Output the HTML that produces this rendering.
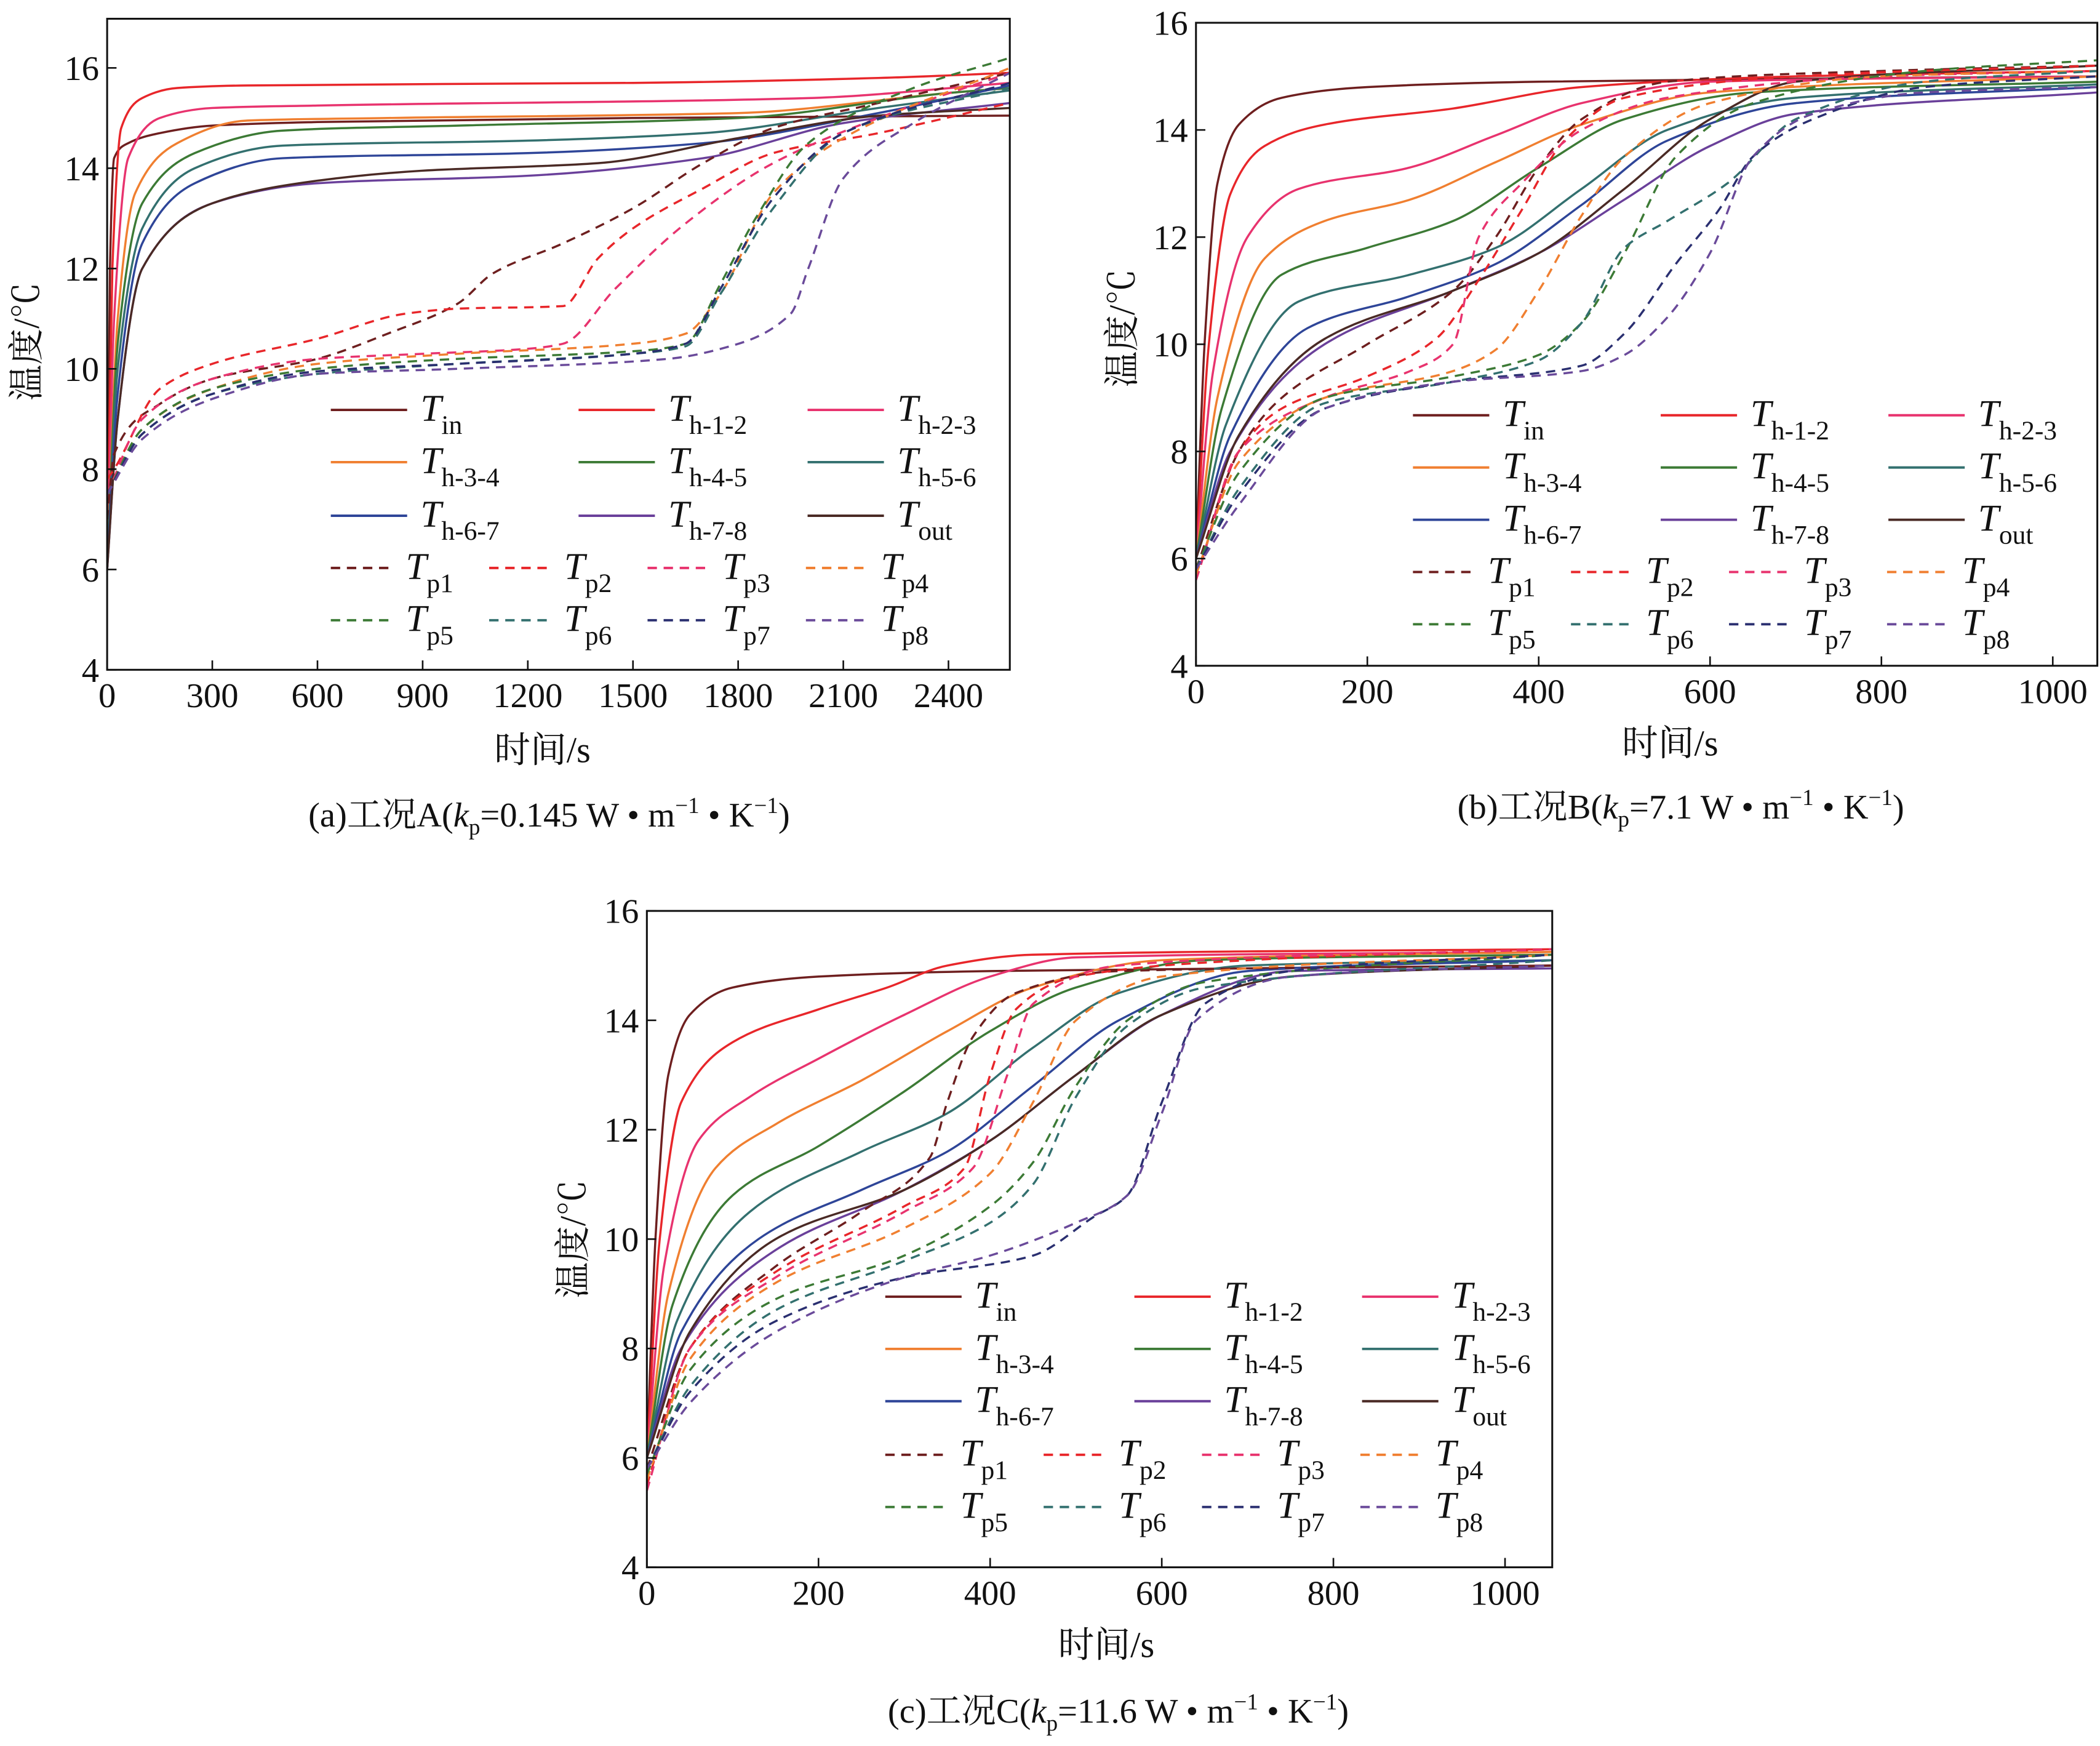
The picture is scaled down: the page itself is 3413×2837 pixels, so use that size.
<!DOCTYPE html>
<html><head><meta charset="utf-8"><style>
html,body{margin:0;padding:0;background:#fff}
svg{display:block}
text{font-family:"Liberation Serif","Noto Serif CJK SC",serif;fill:#111}
</style></head><body>
<svg id="fig" width="3413" height="2837" viewBox="0 0 1568 1303.4" preserveAspectRatio="none" xmlns="http://www.w3.org/2000/svg"></svg>
<script>
const seriesNames=["in","h-1-2","h-2-3","h-3-4","h-4-5","h-5-6","h-6-7","h-7-8","out","p1","p2","p3","p4","p5","p6","p7","p8"];
const seriesColors=["#6e1f1f","#e8262a","#e8336e","#f07f30","#3c7a35","#33706f","#2e4598","#6a409a","#4a2a25","#6e1f1f","#e8262a","#e8336e","#f07f30","#3c7a35","#33706f","#2a2f70","#6a4a9a"];
const yTicks=[4,6,8,10,12,14,16];
const xTicksA=[0,300,600,900,1200,1500,1800,2100,2400];
const xTicksBC=[0,200,400,600,800,1000];
const dataA=[
[[0,6],[8,12],[20,14.2],[60,14.5],[150,14.7],[300,14.85],[600,14.92],[1500,15.0],[2575,15.05]],
[[0,6],[15,12],[40,14.8],[100,15.4],[200,15.6],[400,15.65],[1500,15.7],[2200,15.8],[2575,15.9]],
[[0,6],[20,11],[60,14.2],[150,15],[300,15.2],[600,15.25],[2000,15.4],[2575,15.7]],
[[0,6],[30,11],[80,13.5],[200,14.5],[400,14.95],[800,15.0],[1800,15.1],[2400,15.5],[2575,15.6]],
[[0,6],[30,10.5],[100,13.3],[250,14.3],[500,14.75],[1000,14.85],[1800,15.0],[2400,15.5],[2575,15.6]],
[[0,6],[30,10],[100,12.8],[250,14],[500,14.45],[1200,14.55],[1700,14.7],[2200,15.2],[2575,15.55]],
[[0,6],[30,9.5],[100,12.5],[250,13.7],[500,14.2],[1200,14.3],[1700,14.5],[2200,15.1],[2575,15.65]],
[[0,6],[30,9],[100,12],[300,13.3],[600,13.7],[1200,13.85],[1700,14.2],[2100,14.9],[2575,15.3]],
[[0,6],[30,9],[100,12],[300,13.3],[600,13.75],[900,13.95],[1400,14.1],[1800,14.6],[2200,15.05],[2575,15.2]],
[[0,7],[20,8.3],[150,9.3],[300,9.8],[600,10.2],[800,10.7],[1000,11.3],[1100,11.9],[1300,12.5],[1500,13.2],[1700,14.1],[1900,14.8],[2200,15.3],[2575,15.9]],
[[0,7.8],[20,8],[150,9.6],[300,10.1],[600,10.6],[850,11.1],[1000,11.2],[1300,11.25],[1400,12.2],[1500,12.8],[1700,13.6],[1900,14.3],[2200,14.7],[2575,15.3]],
[[0,7.5],[100,9],[300,9.8],[600,10.2],[900,10.3],[1200,10.4],[1300,10.5],[1450,11.6],[1650,12.9],[1900,14.1],[2200,15],[2575,15.9]],
[[0,7.5],[100,8.8],[300,9.6],[600,10.1],[1000,10.3],[1500,10.5],[1650,10.7],[1750,11.5],[1900,13.5],[2100,14.6],[2575,16.0]],
[[0,7.5],[100,8.8],[300,9.6],[600,10],[1000,10.2],[1500,10.35],[1650,10.5],[1750,11.7],[1850,13],[2000,14.5],[2300,15.6],[2575,16.2]],
[[0,7.5],[100,8.7],[300,9.5],[600,9.9],[1000,10.1],[1500,10.3],[1650,10.45],[1750,11.5],[1900,13.2],[2100,14.7],[2575,15.6]],
[[0,7.5],[100,8.7],[300,9.5],[600,9.95],[1000,10.1],[1500,10.3],[1650,10.5],[1750,11.6],[1900,13.4],[2100,14.7],[2575,15.7]],
[[0,7.5],[100,8.6],[300,9.4],[600,9.9],[1000,10.0],[1600,10.2],[1750,10.4],[1950,11.1],[2000,12],[2100,13.8],[2300,14.9],[2575,15.9]]];
const dataB=[
[[0,6],[10,10],[25,13],[50,14.1],[100,14.6],[200,14.8],[400,14.9],[1052,15.0]],
[[0,6],[15,10],[40,12.8],[80,13.7],[150,14.1],[300,14.4],[450,14.8],[700,15.0],[1052,15.1]],
[[0,6],[20,9.5],[60,12],[120,12.9],[250,13.3],[350,13.9],[450,14.5],[600,14.9],[1052,15.0]],
[[0,6],[25,9],[80,11.6],[150,12.3],[250,12.7],[350,13.4],[450,14.1],[600,14.7],[1052,15.0]],
[[0,6],[30,8.8],[100,11.3],[200,11.8],[300,12.3],[400,13.3],[500,14.2],[650,14.7],[1052,14.9]],
[[0,6],[35,8.5],[120,10.8],[250,11.3],[350,11.8],[450,12.9],[550,14],[700,14.6],[1052,14.85]],
[[0,6],[40,8.3],[130,10.3],[250,10.9],[350,11.5],[450,12.6],[550,13.8],[700,14.5],[1052,14.8]],
[[0,6],[40,8],[150,10],[300,11],[400,11.7],[500,12.7],[600,13.7],[700,14.3],[1052,14.7]],
[[0,6],[50,8.3],[150,10.1],[300,11],[400,11.7],[500,12.9],[600,14.2],[700,14.9],[1052,15.2]],
[[0,5.8],[50,8],[100,9],[200,10],[300,11],[350,12],[400,13.3],[450,14.2],[550,14.9],[800,15.1],[1052,15.2]],
[[0,5.6],[50,8],[100,8.8],[200,9.4],[280,10.1],[330,11.2],[380,12.5],[430,13.8],[500,14.6],[700,15],[1052,15.2]],
[[0,5.6],[50,8],[150,9],[250,9.5],[300,10],[330,12],[380,13],[450,14],[550,14.6],[800,15],[1052,15.1]],
[[0,5.7],[50,7.8],[150,9],[300,9.5],[350,9.9],[400,11],[450,12.4],[500,13.5],[600,14.5],[800,15],[1052,15.1]],
[[0,5.8],[50,7.6],[150,9],[300,9.4],[400,9.8],[450,10.4],[500,11.7],[560,13.5],[650,14.5],[850,15.1],[1052,15.3]],
[[0,5.8],[50,7.3],[150,8.9],[300,9.3],[400,9.7],[450,10.4],[500,11.8],[550,12.3],[620,13],[700,14.2],[850,14.9],[1052,15.1]],
[[0,5.8],[50,7.2],[150,8.8],[300,9.3],[450,9.6],[500,10.2],[560,11.5],[610,12.5],[650,13.5],[720,14.2],[850,14.8],[1052,15.0]],
[[0,5.8],[50,7],[150,8.8],[300,9.3],[450,9.5],[500,9.8],[550,10.5],[600,11.7],[650,13.5],[720,14.3],[850,14.7],[1052,14.8]]];
const dataC=[
[[0,6],[10,10],[25,13],[50,14.1],[100,14.6],[200,14.8],[400,14.9],[1055,15.0]],
[[0,6],[15,10],[40,12.5],[100,13.6],[200,14.2],[280,14.6],[350,15.0],[450,15.2],[1055,15.3]],
[[0,6],[20,9.5],[60,11.8],[120,12.6],[200,13.3],[300,14.1],[400,14.8],[500,15.15],[1055,15.25]],
[[0,6],[25,9],[80,11.3],[150,12.1],[250,12.9],[350,13.8],[450,14.6],[600,15.1],[1055,15.25]],
[[0,6],[30,8.8],[100,10.8],[200,11.7],[300,12.7],[400,13.8],[500,14.6],[650,15.1],[1055,15.2]],
[[0,6],[35,8.5],[120,10.5],[250,11.6],[350,12.3],[450,13.5],[550,14.5],[700,15],[1055,15.1]],
[[0,6],[40,8.3],[130,10],[250,10.9],[350,11.6],[450,12.8],[550,14],[700,14.9],[1055,15.1]],
[[0,6],[40,8],[150,9.8],[300,10.9],[400,11.8],[500,13],[600,14.1],[750,14.9],[1055,14.95]],
[[0,6],[50,8.3],[150,10],[300,10.9],[400,11.8],[500,13],[600,14.1],[750,14.8],[1055,15.0]],
[[0,5.8],[50,8],[150,9.5],[250,10.5],[330,11.5],[350,12.5],[380,13.7],[430,14.5],[550,14.9],[1055,15.0]],
[[0,5.5],[50,8],[150,9.4],[300,10.6],[370,11.3],[400,13],[430,14.2],[500,14.8],[700,15.1],[1055,15.3]],
[[0,5.4],[50,8],[150,9.3],[300,10.5],[380,11.3],[420,13],[450,14.3],[550,15],[1055,15.3]],
[[0,5.6],[50,7.8],[150,9.2],[300,10.2],[400,11.2],[450,12.5],[500,14],[600,14.8],[1055,15.2]],
[[0,5.7],[50,7.6],[150,8.9],[300,9.7],[400,10.6],[450,11.4],[500,12.8],[560,14],[650,14.7],[1055,15.2]],
[[0,5.8],[50,7.3],[150,8.7],[300,9.6],[400,10.3],[450,11],[500,12.6],[560,13.9],[650,14.6],[1055,15.1]],
[[0,5.8],[50,7.2],[150,8.5],[300,9.3],[450,9.7],[520,10.4],[560,10.8],[600,12.5],[650,14.3],[750,14.9],[1055,15.2]],
[[0,5.8],[50,7],[150,8.3],[300,9.3],[400,9.7],[500,10.3],[560,10.8],[600,12.3],[640,14],[750,14.8],[1055,15.0]]];

const NS2="http://www.w3.org/2000/svg";
const svg2=document.getElementById('fig');
function el(tag,attrs,parent){const e=document.createElementNS(NS2,tag);for(const k in attrs)e.setAttribute(k,attrs[k]);(parent||svg2).appendChild(e);return e;}
function monoPath(pts){
  const n=pts.length;if(n<2)return '';
  const dx=[],m=[],t=new Array(n);
  for(let i=0;i<n-1;i++){dx.push(pts[i+1][0]-pts[i][0]);m.push((pts[i+1][1]-pts[i][1])/dx[i]);}
  t[0]=m[0];t[n-1]=m[n-2];
  for(let i=1;i<n-1;i++){t[i]=(m[i-1]*m[i]<=0)?0:(dx[i-1]+dx[i])*3/((2*dx[i]+dx[i-1])/m[i-1]+(dx[i]+2*dx[i-1])/m[i]);}
  let d='M'+pts[0][0].toFixed(1)+','+pts[0][1].toFixed(1);
  for(let i=0;i<n-1;i++){
    const h=dx[i]/3;
    d+='C'+(pts[i][0]+h).toFixed(1)+','+(pts[i][1]+t[i]*h).toFixed(1)+' '+(pts[i+1][0]-h).toFixed(1)+','+(pts[i+1][1]-t[i+1]*h).toFixed(1)+' '+pts[i+1][0].toFixed(1)+','+pts[i+1][1].toFixed(1);
  }
  return d;
}
const P=[
{id:"a",x0:80,x1:754,y0:14,y1:500,xmax:2575,ymin:4,ymax:16.98,xt:xTicksA,data:dataA,legX:[247,432,603],legY:[306,345,385,424,463],xl:[405,560],yl:[20,255],cap:[410,608],cl:"(a)工况A(",kv:"=0.145 W • m"},
{id:"b",x0:893,x1:1566,y0:17,y1:497,xmax:1052,ymin:4,ymax:16,xt:xTicksBC,data:dataB,legX:[1055,1240,1410],legY:[310,349,388,427,466],xl:[1247,555],yl:[838,245],cap:[1255,602],cl:"(b)工况B(",kv:"=7.1 W • m"},
{id:"c",x0:483,x1:1159,y0:680,y1:1170,xmax:1055,ymin:4,ymax:16,xt:xTicksBC,data:dataC,legX:[661,847,1017],legY:[968,1007,1046,1086,1125],xl:[826,1228],yl:[428,925],cap:[835,1277],cl:"(c)工况C(",kv:"=11.6 W • m"}];
P.forEach(p=>{
  const g=el('g',{});
  
  
  const sx=v=>p.x0+v/p.xmax*(p.x1-p.x0);
  const sy=v=>p.y1-(v-p.ymin)/(p.ymax-p.ymin)*(p.y1-p.y0);
  const clipId='clip'+p.id;
  const cp=el('clipPath',{id:clipId},g);el('rect',{x:p.x0,y:p.y0,width:p.x1-p.x0,height:p.y1-p.y0},cp);
  const lines=el('g',{'clip-path':'url(#'+clipId+')'},g);
  p.data.forEach((s,i)=>{
    const d=monoPath(s.map(pt=>[sx(pt[0]),sy(pt[1])]));
    const pa=el('path',{d:d,fill:'none',stroke:seriesColors[i],'stroke-width':1.6,'stroke-linejoin':'round'},lines);
    if(i>=9)pa.setAttribute('stroke-dasharray','7,5');
    
    
  });
  const fr=el('rect',{x:p.x0,y:p.y0,width:p.x1-p.x0,height:p.y1-p.y0,fill:'none',stroke:'#111','stroke-width':1.4},g);
  
  
  yTicks.forEach(t=>{
    const y=sy(t);
    el('line',{x1:p.x0,x2:p.x0+7,y1:y,y2:y,stroke:'#111','stroke-width':1.2},g);
    const tx=el('text',{x:p.x0-6,y:y+9,'text-anchor':'end','font-size':26},g);tx.textContent=t;
    
    
  });
  p.xt.forEach(t=>{
    const x=sx(t);
    el('line',{x1:x,x2:x,y1:p.y1,y2:p.y1-7,stroke:'#111','stroke-width':1.2},g);
    const tx=el('text',{x:x,y:p.y1+28,'text-anchor':'middle','font-size':26},g);tx.textContent=t;
    
    
  });
  const xl=el('text',{x:p.xl[0],y:p.xl[1]+9,'text-anchor':'middle','font-size':27},g);xl.textContent='时间/s';
  
  
  const yl=el('text',{x:0,y:0,'text-anchor':'middle','font-size':27,transform:'translate('+(p.yl[0]+9)+','+p.yl[1]+') rotate(-90)'},g);yl.textContent='温度/℃';
  
  
  const cap=el('text',{x:p.cap[0],y:p.cap[1]+9,'text-anchor':'middle','font-size':26},g);
  cap.innerHTML=p.cl+'<tspan font-style="italic">k</tspan><tspan font-size="17" dy="6">p</tspan><tspan dy="-6">'+p.kv+'</tspan><tspan font-size="17" dy="-10">−1</tspan><tspan dy="10"> • K</tspan><tspan font-size="17" dy="-10">−1</tspan><tspan dy="10">)</tspan>';
  
  
  seriesNames.forEach((n,i)=>{
    let row,col,len,lx;
    if(i<9){row=Math.floor(i/3);col=i%3;len=57;lx=p.legX[col];}
    else{row=3+Math.floor((i-9)/4);col=(i-9)%4;len=46;const w=(p.legX[2]+57-p.legX[0]+60)/4;lx=p.legX[0]+col*w;}
    const y=p.legY[row];
    const le=el('g',{},g);
    
    
    const ln=el('line',{x1:lx,x2:lx+len,y1:y,y2:y,stroke:seriesColors[i],'stroke-width':1.8},le);
    if(i>=9)ln.setAttribute('stroke-dasharray','7,5');
    const t=el('text',{x:lx+len+10,y:y+8,'font-size':28},le);
    t.innerHTML='<tspan font-style="italic">T</tspan><tspan font-size="20" dy="10">'+n+'</tspan>';
  });
});
</script>
</body></html>
